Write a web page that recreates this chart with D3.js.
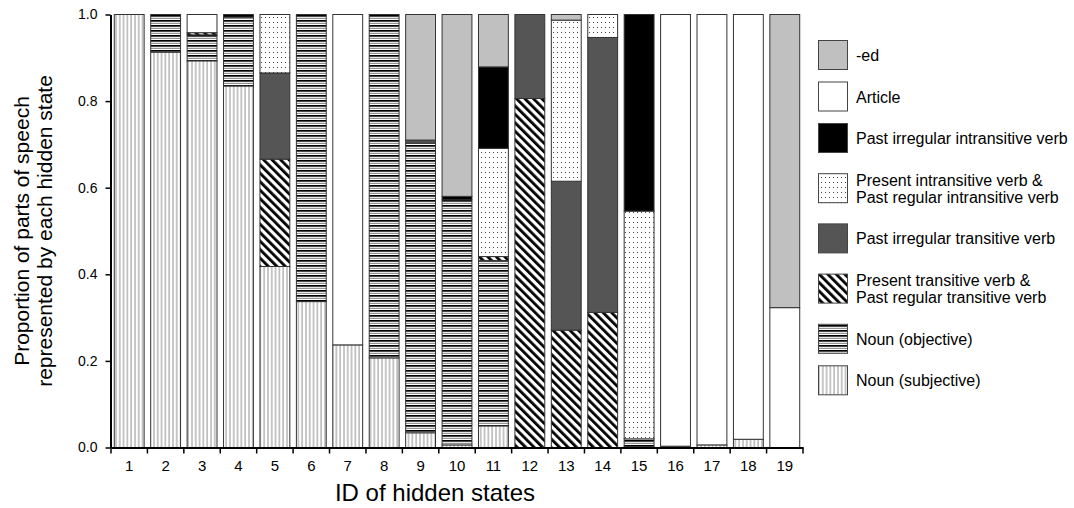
<!DOCTYPE html>
<html>
<head>
<meta charset="utf-8">
<script src="https://cdn.jsdelivr.net/npm/d3@7"></script>
<style>
  body { margin: 0; background: #fff; }
  text { font-family: "Liberation Sans", Arial, sans-serif; }
</style>
</head>
<body>
<div id="chart"></div>
<script>
// hidden state ids
const states = ["1","2","3","4","5","6","7","8","9","10","11","12","13","14","15","16","17","18","19"];

// one array per part of speech, bottom of the stack first
const nounSubjective   = [1.0, 0.913, 0.893, 0.835, 0.418, 0.337, 0.237, 0.207, 0.034, 0.006, 0.05, 0, 0, 0, 0.002, 0, 0.006, 0.019, 0];
const nounObjective    = [0, 0.087, 0.06, 0.159, 0, 0.663, 0, 0.793, 0.669, 0.566, 0.382, 0, 0, 0, 0.018, 0.003, 0, 0, 0];
const presTransitive   = [0, 0, 0.005, 0, 0.248, 0, 0, 0, 0, 0, 0.009, 0.806, 0.271, 0.312, 0, 0, 0, 0, 0];
const pastIrrTrans     = [0, 0, 0, 0, 0.199, 0, 0, 0, 0.007, 0, 0, 0.194, 0.344, 0.635, 0, 0, 0, 0, 0];
const presIntransitive = [0, 0, 0, 0, 0.135, 0, 0, 0, 0, 0, 0.25, 0, 0.372, 0.053, 0.526, 0, 0, 0, 0];
const pastIrrIntrans   = [0, 0, 0, 0.006, 0, 0, 0, 0, 0, 0.008, 0.188, 0, 0, 0, 0.454, 0, 0, 0, 0];
const article          = [0, 0, 0.042, 0, 0, 0, 0.763, 0, 0, 0, 0, 0, 0, 0, 0, 0.997, 0.994, 0.981, 0.323];
const ed               = [0, 0, 0, 0, 0, 0, 0, 0, 0.29, 0.42, 0.121, 0, 0.013, 0, 0, 0, 0, 0, 0.677];

const yTicks = [0, 0.2, 0.4, 0.6, 0.8, 1.0];

const series = [
  {key: "subj",   label: ["Noun (subjective)"], values: nounSubjective, fill: "url(#pSubj)"},
  {key: "obj",    label: ["Noun (objective)"], values: nounObjective, fill: "url(#pObj)"},
  {key: "ptr",    label: ["Present transitive verb &", "Past regular transitive verb"], values: presTransitive, fill: "url(#pDiag)"},
  {key: "pitr",   label: ["Past irregular transitive verb"], values: pastIrrTrans, fill: "#555555"},
  {key: "pin",    label: ["Present intransitive verb &", "Past regular intransitive verb"], values: presIntransitive, fill: "url(#pDots)"},
  {key: "piin",   label: ["Past irregular intransitive verb"], values: pastIrrIntrans, fill: "#000000"},
  {key: "art",    label: ["Article"], values: article, fill: "#ffffff"},
  {key: "ed",     label: ["-ed"], values: ed, fill: "#c0c0c0"}
];

const W = 1074, H = 508;
const margin = {left: 111, right: 271, top: 14.5, bottom: 60.5};

const svg = d3.select("#chart").append("svg")
  .attr("width", W).attr("height", H);

// fill patterns
const defs = svg.append("defs");
let p = defs.append("pattern").attr("id", "pSubj")
  .attr("patternUnits", "userSpaceOnUse").attr("width", 3.8).attr("height", 10);
p.append("rect").attr("width", 3.8).attr("height", 10).attr("fill", "#fff");
p.append("rect").attr("x", 1.4).attr("width", 1.1).attr("height", 10).attr("fill", "#999");

p = defs.append("pattern").attr("id", "pObj")
  .attr("patternUnits", "userSpaceOnUse").attr("width", 10).attr("height", 5);
p.append("rect").attr("width", 10).attr("height", 5).attr("fill", "#fff");
p.append("rect").attr("y", 0).attr("width", 10).attr("height", 1.7).attr("fill", "#000");
p.append("rect").attr("y", 2.8).attr("width", 10).attr("height", 1.1).attr("fill", "#888");

p = defs.append("pattern").attr("id", "pDiag")
  .attr("patternUnits", "userSpaceOnUse").attr("width", 6).attr("height", 6)
  .attr("patternTransform", "rotate(-45)");
p.append("rect").attr("width", 6).attr("height", 6).attr("fill", "#fff");
p.append("rect").attr("width", 2.8).attr("height", 6).attr("fill", "#000");

p = defs.append("pattern").attr("id", "pDots")
  .attr("patternUnits", "userSpaceOnUse").attr("width", 4).attr("height", 5);
p.append("rect").attr("width", 4).attr("height", 5).attr("fill", "#fff");
p.append("rect").attr("x", 1).attr("y", 2).attr("width", 1).attr("height", 1).attr("fill", "#444");

const x = d3.scaleBand()
  .domain(states)
  .range([margin.left, W - margin.right])
  .paddingInner(0.18)
  .paddingOuter(0.09);

const y = d3.scaleLinear()
  .domain([0, 1])
  .range([H - margin.bottom, margin.top]);

// stack the series
const rows = states.map((s, i) => {
  let r = {state: s};
  series.forEach(d => r[d.key] = d.values[i]);
  return r;
});
const stacked = d3.stack().keys(series.map(d => d.key))(rows);

const layers = svg.append("g").attr("class", "bars")
  .selectAll("g").data(stacked).join("g")
  .attr("fill", (d, i) => series[i].fill);

layers.selectAll("rect")
  .data(d => d.filter(v => v[1] - v[0] > 0))
  .join("rect")
  .attr("x", d => x(d.data.state))
  .attr("width", x.bandwidth())
  .attr("y", d => y(d[1]))
  .attr("height", d => y(d[0]) - y(d[1]))
  .attr("stroke", "#333")
  .attr("stroke-width", 1);

// y axis
const yAxis = svg.append("g")
  .attr("transform", `translate(${margin.left - 0.5},0)`)
  .call(d3.axisLeft(y).tickValues(yTicks).tickFormat(d3.format(".1f")).tickSize(5).tickSizeOuter(0));
yAxis.select(".domain").attr("stroke-width", 2);
yAxis.selectAll(".tick line").attr("stroke-width", 1.5);
yAxis.selectAll("text")
  .attr("x", -13)
  .style("font-size", "14px")
  .style("font-family", "Liberation Sans, Arial, sans-serif")
  .attr("fill", "#000");

// x axis: labels in the middle, ticks on the band edges
const xAxis = svg.append("g")
  .attr("transform", `translate(0,${H - margin.bottom})`)
  .call(d3.axisBottom(x).tickSize(0).tickPadding(13));
xAxis.select(".domain").attr("stroke-width", 2);
xAxis.selectAll("text")
  .style("font-size", "15px")
  .style("font-family", "Liberation Sans, Arial, sans-serif")
  .attr("fill", "#000");
const edges = states.map(s => x(s) - x.step() * x.paddingInner() / 2)
  .concat([x(states[states.length - 1]) + x.bandwidth() + x.step() * x.paddingInner() / 2]);
xAxis.selectAll(".edge").data(edges).join("line")
  .attr("class", "edge")
  .attr("x1", d => d).attr("x2", d => d)
  .attr("y1", 0).attr("y2", 6)
  .attr("stroke", "#000").attr("stroke-width", 1.5);

// axis titles
svg.append("text")
  .attr("x", 435)
  .attr("y", 501)
  .attr("text-anchor", "middle")
  .style("font-size", "24px")
  .text("ID of hidden states");

const yTitle = svg.append("text")
  .attr("transform", `translate(29,${(y(0) + y(1)) / 2}) rotate(-90)`)
  .attr("text-anchor", "middle")
  .style("font-size", "21px");
yTitle.append("tspan").attr("x", 0).attr("dy", 0).text("Proportion of parts of speech");
yTitle.append("tspan").attr("x", 0).attr("dy", 23).text("represented by each hidden state");

// legend, top item first
const legendItems = series.slice().reverse();
let ly = 55;
const legend = svg.append("g").attr("class", "legend");
legendItems.forEach((d, i) => {
  const half = 20.75 + (d.label.length - 1) * 8.7;
  if (i > 0) ly += half;
  const cy = ly;
  ly += half;
  const g = legend.append("g");
  g.append("rect")
    .attr("x", 818.5).attr("y", cy - 14.5)
    .attr("width", 29).attr("height", 29)
    .attr("fill", d.fill)
    .attr("stroke", "#444").attr("stroke-width", 1);
  const t = g.append("text")
    .attr("x", 856)
    .attr("y", cy - (d.label.length - 1) * 8.5)
    .attr("dominant-baseline", "central")
    .style("font-size", "16px");
  d.label.forEach((line, j) => {
    t.append("tspan").attr("x", 856).attr("dy", j === 0 ? 0 : 17).text(line);
  });
});
</script>
</body>
</html>
